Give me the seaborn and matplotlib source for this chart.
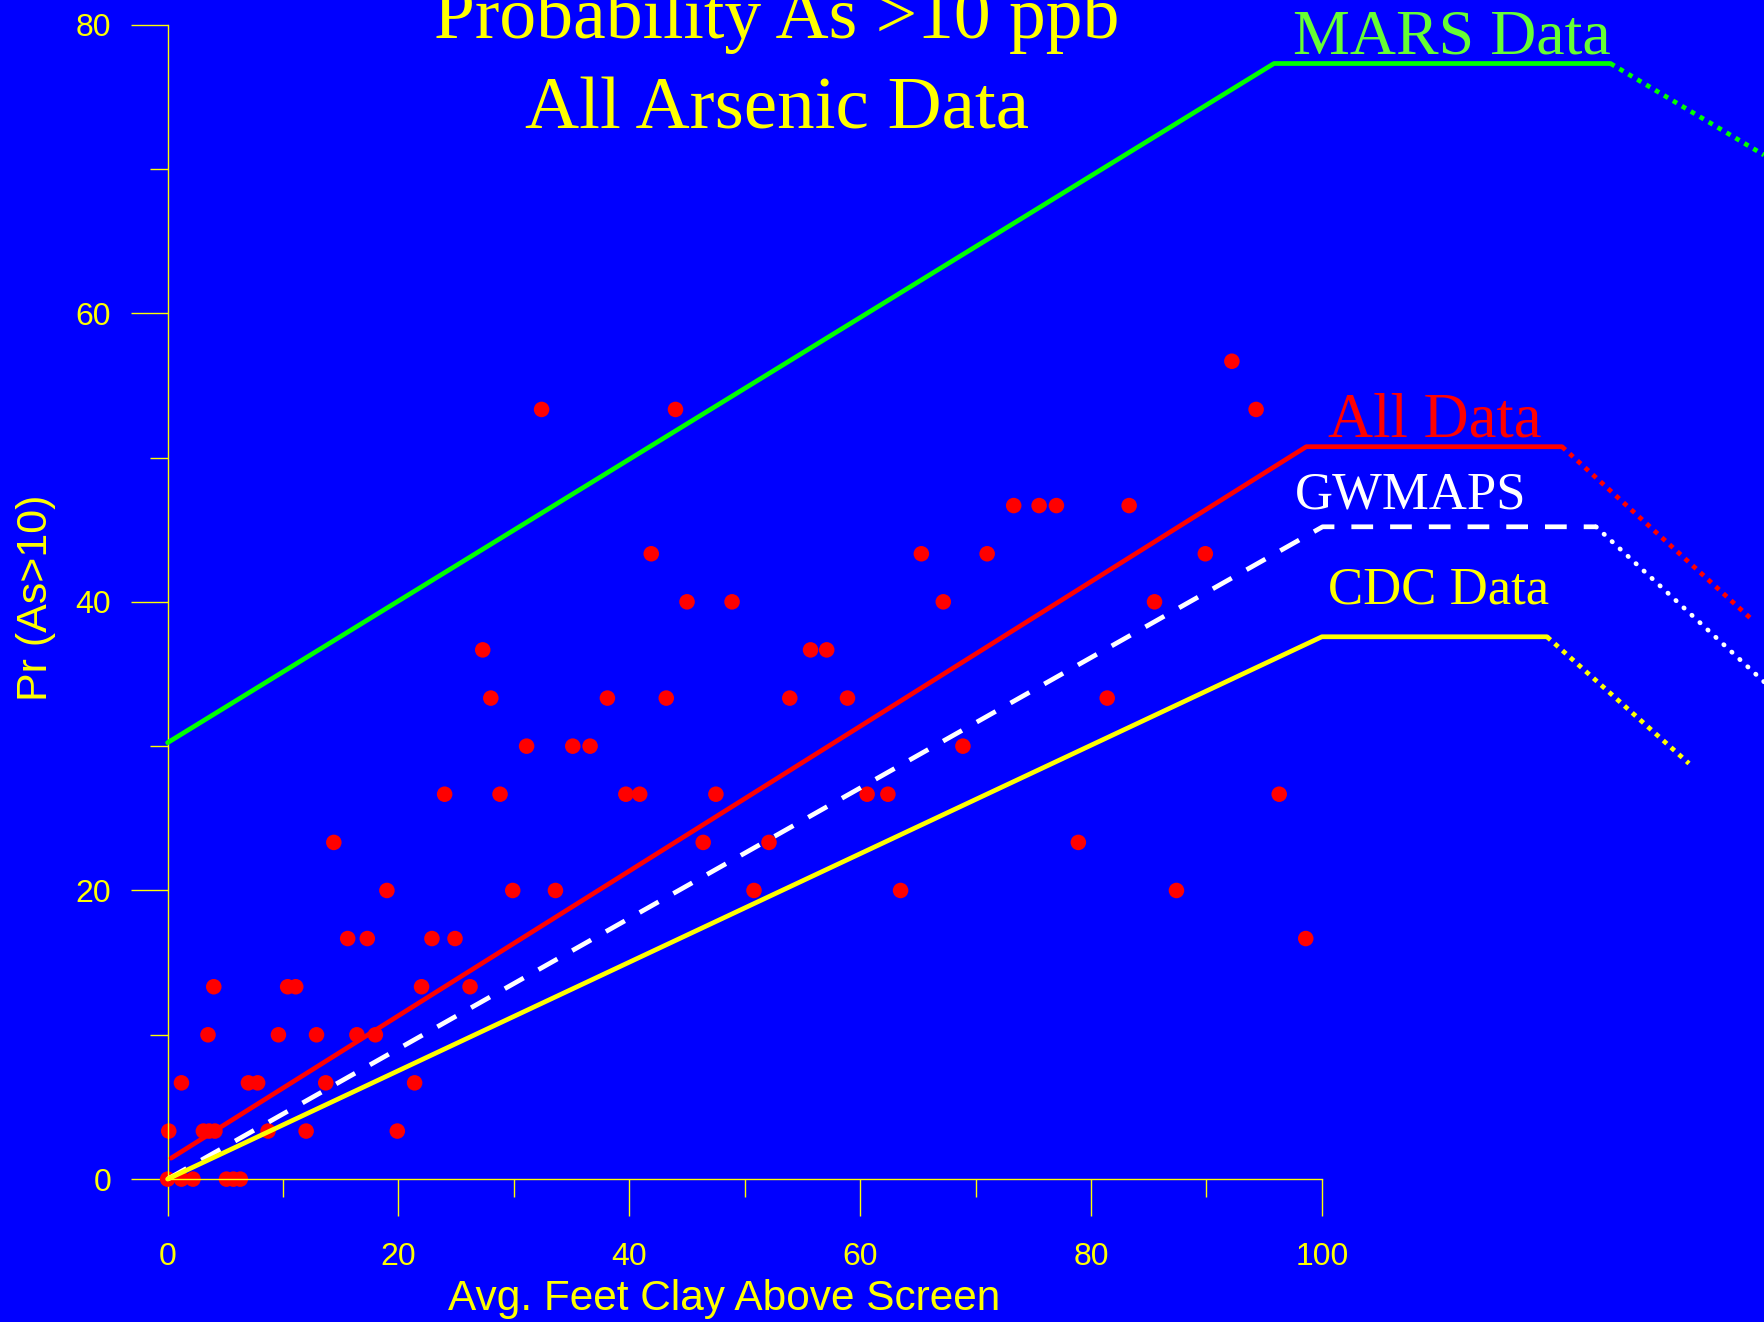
import numpy as np
import pandas as pd
import matplotlib
matplotlib.use("Agg")
import matplotlib.pyplot as plt
import seaborn as sns

# observed points: avg feet of clay above screen vs % wells with As > 10 ppb
clay_ft = [0, 1.2, 2.2, 5.1, 5.7, 6.3,
           0.1, 3.1, 3.6, 4.1, 8.7, 12.0, 19.9,
           1.2, 7.0, 7.8, 13.7, 21.4,
           3.5, 9.6, 12.9, 16.4, 18.0,
           4.0, 10.4, 11.1, 22.0, 26.2,
           15.6, 17.3, 22.9, 24.9, 98.6,
           19.0, 29.9, 33.6, 50.8, 63.5, 87.4,
           14.4, 46.4, 52.1, 78.9,
           24.0, 28.8, 39.7, 40.9, 47.5, 60.6, 62.4, 96.3,
           31.1, 35.1, 36.6, 68.9,
           28.0, 38.1, 43.2, 53.9, 58.9, 81.4,
           27.3, 55.7, 57.1,
           45.0, 48.9, 67.2, 85.5,
           41.9, 65.3, 71.0, 89.9,
           73.3, 75.5, 77.0, 83.3,
           32.4, 44.0, 94.3,
           92.2]
pr_as = [0, 0, 0, 0, 0, 0,
         3.33, 3.33, 3.33, 3.33, 3.33, 3.33, 3.33,
         6.67, 6.67, 6.67, 6.67, 6.67,
         10, 10, 10, 10, 10,
         13.33, 13.33, 13.33, 13.33, 13.33,
         16.67, 16.67, 16.67, 16.67, 16.67,
         20, 20, 20, 20, 20, 20,
         23.33, 23.33, 23.33, 23.33,
         26.67, 26.67, 26.67, 26.67, 26.67, 26.67, 26.67, 26.67,
         30, 30, 30, 30,
         33.33, 33.33, 33.33, 33.33, 33.33, 33.33,
         36.67, 36.67, 36.67,
         40, 40, 40, 40,
         43.33, 43.33, 43.33, 43.33,
         46.67, 46.67, 46.67, 46.67,
         53.33, 53.33, 53.33,
         56.67]

# model curves: fitted part and extrapolated (dotted) part
mars_x = [0, 95.85, 125.0]
mars_y = [30.24, 77.3, 77.3]
mars_ext_x = [125.0, 138.3]
mars_ext_y = [77.3, 70.96]

all_x = [0.3, 98.65, 120.8]
all_y = [1.45, 50.75, 50.75]
all_ext_x = [120.8, 137.3]
all_ext_y = [50.75, 38.74]

gw_x = [0, 100.06, 123.75]
gw_y = [0, 45.2, 45.2]
gw_ext_x = [123.75, 138.3]
gw_ext_y = [45.2, 34.46]

cdc_x = [0, 100.0, 119.5]
cdc_y = [0, 37.58, 37.58]
cdc_ext_x = [119.5, 131.8]
cdc_ext_y = [37.58, 28.8]

BLUE = "#0000ff"
sns.set_style("ticks")
plt.rcParams['font.family'] = ['Liberation Sans', 'DejaVu Sans']

fig = plt.figure(figsize=(17.64, 13.22), dpi=100, facecolor=BLUE)
ax = fig.add_axes([0, 0, 1, 1], facecolor=BLUE)

pts = pd.DataFrame({"clay": clay_ft, "pr": pr_as})
sns.scatterplot(data=pts, x="clay", y="pr", color="#ff0000", s=125, marker="o",
                edgecolor="none", ax=ax, zorder=2)

lw = 3.4
dots = (0, (1, 1.2))
sns.lineplot(x=mars_x, y=mars_y, color="#00ff00", lw=lw, sort=False, ax=ax, zorder=3)
sns.lineplot(x=mars_ext_x, y=mars_ext_y, color="#00ff00", lw=lw, ls=dots, sort=False, ax=ax, zorder=3)
sns.lineplot(x=all_x, y=all_y, color="#ff0000", lw=lw, sort=False, ax=ax, zorder=3)
sns.lineplot(x=all_ext_x, y=all_ext_y, color="#ff0000", lw=lw, ls=dots, sort=False, ax=ax, zorder=3)
sns.lineplot(x=gw_x, y=gw_y, color="white", lw=lw, ls=(0, (4.6, 3.6)), sort=False, ax=ax, zorder=3)
sns.lineplot(x=gw_ext_x, y=gw_ext_y, color="white", lw=lw, ls=(0, (0.1, 2.2)), sort=False,
             ax=ax, zorder=3, dash_capstyle="round")
sns.lineplot(x=cdc_x, y=cdc_y, color="#ffff00", lw=lw, sort=False, ax=ax, zorder=3)
sns.lineplot(x=cdc_ext_x, y=cdc_ext_y, color="#ffff00", lw=lw, ls=dots, sort=False, ax=ax, zorder=3)

ax.set_xlim(-14.52, 138.3)
ax.set_ylim(-9.9, 81.7)
ax.set_xlabel("")
ax.set_ylabel("")

for side in ["top", "right"]:
    ax.spines[side].set_visible(False)
ax.spines["left"].set_position(("data", 0))
ax.spines["bottom"].set_position(("data", 0))
ax.spines["left"].set_bounds(0, 80)
ax.spines["bottom"].set_bounds(0, 100)
for side in ["left", "bottom"]:
    ax.spines[side].set_color("#ffff00")
    ax.spines[side].set_linewidth(1.0)

ax.set_xticks([0, 20, 40, 60, 80, 100])
ax.set_xticks([10, 30, 50, 70, 90], minor=True)
ax.set_yticks([0, 20, 40, 60, 80])
ax.set_yticks([10, 30, 50, 70], minor=True)
ax.tick_params(which="major", direction="out", length=26.6, width=1.0, color="#ffff00",
               labelcolor="#ffff00", labelsize=23)
ax.tick_params(which="minor", direction="out", length=13.3, width=1.0, color="#ffff00")
ax.tick_params(axis="y", which="major", pad=14)
ax.tick_params(axis="x", which="major", pad=19)

ax.text(-11.4, 40.3, "Pr (As>10)", rotation=90, ha="center", va="center",
        fontsize=31, color="#ffff00")
ax.text(48.2, -9.08, "Avg. Feet Clay Above Screen", ha="center", va="baseline",
        fontsize=30.5, color="#ffff00")

serif = ["Liberation Serif", "DejaVu Serif"]
ax.text(52.8, 79.07, "Probability As >10 ppb", ha="center", va="baseline",
        fontsize=53, family=serif, color="#ffff00")
ax.text(52.8, 72.83, "All Arsenic Data", ha="center", va="baseline",
        fontsize=54, family=serif, color="#ffff00")

ax.text(111.3, 77.96, "MARS Data", ha="center", va="baseline", fontsize=46, family=serif, color="#66ff33")
ax.text(109.8, 51.44, "All Data", ha="center", va="baseline", fontsize=45, family=serif, color="#ff0000")
ax.text(107.7, 46.5, "GWMAPS", ha="center", va="baseline", fontsize=38, family=serif, color="white")
ax.text(110.1, 39.9, "CDC Data", ha="center", va="baseline", fontsize=38, family=serif, color="#ffff00")

fig.savefig("out.png", dpi=100, facecolor=BLUE)
